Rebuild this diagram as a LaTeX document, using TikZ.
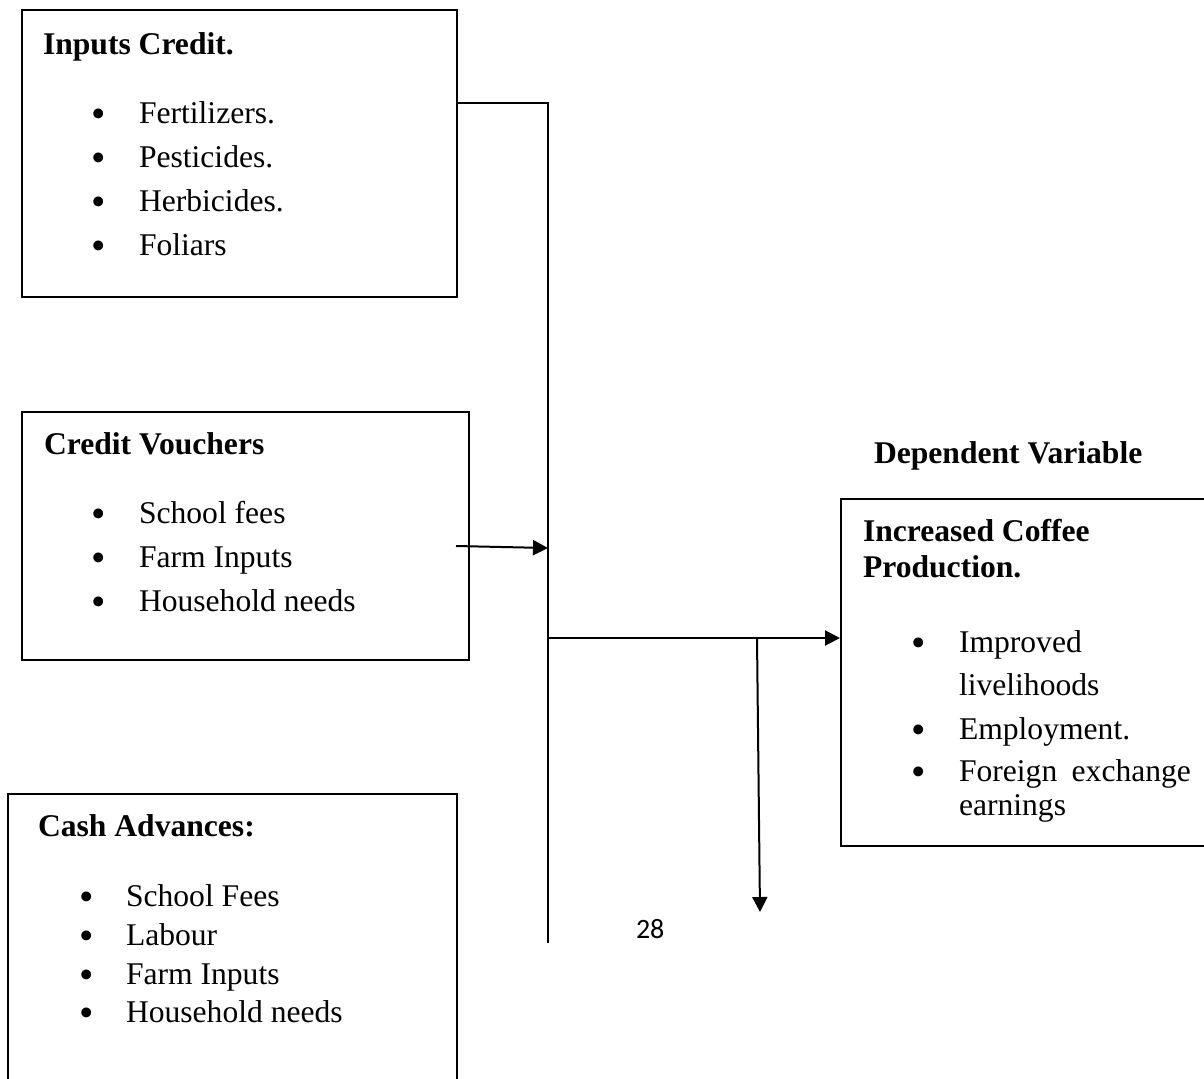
\documentclass[tikz,border=0pt]{standalone}
\usepackage{fontspec}
\setmainfont{Liberation Serif}
\newfontfamily\pagenofont{Carlito}
\usetikzlibrary{arrows.meta,fit}

\newcommand{\itemdot}[1]{\makebox[#1][l]{\raisebox{-2.2pt}{\scalebox{1.3}{\textbullet}}}}

\tikzset{every picture/.style={line width=1pt}}
\tikzset{box/.style={draw, inner sep=0pt},
  txt/.style={anchor=base west, inner sep=0pt, font=\fontsize{15.8}{19}\selectfont},
  ttl/.style={anchor=base west, inner sep=0pt, font=\fontsize{15.8}{19}\selectfont\bfseries},
  flow/.style={-{Triangle[length=7.5pt,width=7.5pt]}}}

\begin{document}
\begin{tikzpicture}[x=0.5pt,y=0.5pt,yscale=-1,xscale=1]
\clip (0,0) rectangle (1204,1078);

%Shape: Rectangle [Inputs Credit]
\node [box, fit={(22,10) (457,297)}] (inputs) {};
%Shape: Rectangle [Credit Vouchers]
\node [box, fit={(22,412) (469,660)}] (vouchers) {};
%Shape: Rectangle [Cash Advances]
\node [box, fit={(8,794) (457,1110)}] (cash) {};
%Shape: Rectangle [Coffee Production]
\node [box, fit={(841,499) (1230,846)}] (prod) {};

% Text Node
\node [ttl] (inputsttl) at (42,54) {Inputs Credit.};
\node [txt] (fert) at (90,123) {\itemdot{24pt}Fertilizers.};
\node [txt] (pest) at (90,167) {\itemdot{24pt}Pesticides.};
\node [txt] (herb) at (90,211) {\itemdot{24pt}Herbicides.};
\node [txt] (fol) at (90,255) {\itemdot{24pt}Foliars};

% Text Node
\node [ttl] (vouchersttl) at (43,454) {Credit Vouchers};
\node [txt] (vfees) at (90,523) {\itemdot{24pt}School fees};
\node [txt] (vfarm) at (90,567) {\itemdot{24pt}Farm Inputs};
\node [txt] (vhouse) at (90,611) {\itemdot{24pt}Household needs};

% Text Node
\node [ttl] (cashttl) at (37,836) {Cash Advances:};
\node [txt] (cfees) at (78,906) {\itemdot{23.5pt}School Fees};
\node [txt] (clab) at (78,945) {\itemdot{23.5pt}Labour};
\node [txt] (cfarm) at (78,984) {\itemdot{23.5pt}Farm Inputs};
\node [txt] (chouse) at (78,1022) {\itemdot{23.5pt}Household needs};

% Text Node
\node [ttl] (depttl) at (873,463) {Dependent Variable};
\node [ttl] (prodttl) at (862,541) {Increased Coffee};
\node [ttl] (prodttlb) at (862,577) {Production.};
\node [txt] (live) at (910,652) {\itemdot{24pt}Improved};
\node [txt] (liveb) at (958,695) {livelihoods};
\node [txt] (emp) at (910,739) {\itemdot{24pt}Employment.};
\node [txt] (forex) at (910,781) {\itemdot{24pt}\makebox[116pt][s]{Foreign exchange}};
\node [txt] (forexb) at (958,815) {earnings};

% Text Node
\node [anchor=base west, inner sep=0pt, font=\pagenofont\fontsize{14}{14}\selectfont] (pageno) at (635,938) {28};

%Straight Lines
\coordinate (ctop) at (548,103);
\coordinate (cbot) at (548,943);
\draw (inputs.east |- ctop) -- (ctop) -- (cbot);

%Straight Lines
\coordinate (vstart) at (456,546);
\coordinate (vend) at (548,548);
\draw [flow] (vstart) -- (vend);

%Straight Lines
\coordinate (hub) at (548,638);
\draw [flow] (hub) -- (hub -| prod.west);

%Straight Lines
\coordinate (drop) at (757,638);
\coordinate (dropend) at (760,912);
\draw [flow] (drop) -- (dropend);

\end{tikzpicture}
\end{document}
